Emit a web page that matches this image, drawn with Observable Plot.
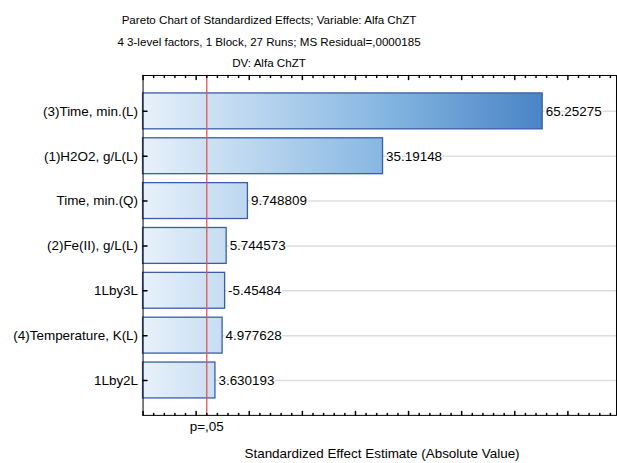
<!DOCTYPE html>
<html><head><meta charset="utf-8">
<script src="https://cdn.jsdelivr.net/npm/d3@7"></script>
<script src="https://cdn.jsdelivr.net/npm/@observablehq/plot@0.6"></script>
<style>
body{margin:0;background:#fff;font-family:"Liberation Sans",Arial,sans-serif;overflow:hidden}
#wrap{width:617px;height:463px;overflow:hidden;position:relative;background:#fff}
#title{box-sizing:border-box;width:538px;text-align:center;font-size:11.6px;line-height:21.5px;padding-top:9px;height:71px;color:#000}
#chart svg{display:block}
</style></head><body>
<div id="wrap"><div id="title"></div><div id="chart"></div></div>
<script>
const titleLines = [
  "Pareto Chart of Standardized Effects; Variable: Alfa ChZT",
  "4 3-level factors, 1 Block, 27 Runs; MS Residual=,0000185",
  "DV: Alfa ChZT"
];
const factors = ["(3)Time, min.(L)", "(1)H2O2, g/L(L)", "Time, min.(Q)", "(2)Fe(II), g/L(L)", "1Lby3L", "(4)Temperature, K(L)", "1Lby2L"];
const effects = [65.25275, 35.19148, 9.748809, 5.744573, -5.45484, 4.977628, 3.630193];
const xDomain = [-10, 79.15];
const majorTicks = [-10, 0, 10, 20, 30, 40, 50, 60, 70];
const minorTicks = [-8, -6, -4, -2, 2, 4, 6, 8, 12, 14, 16, 18, 22, 24, 26, 28, 32, 34, 36, 38, 42, 44, 46, 48, 52, 54, 56, 58, 62, 64, 66, 68, 72, 74, 76, 78];
const pCritical = 2.0;
const pLabel = "p=,05";
const xLabel = "Standardized Effect Estimate (Absolute Value)";

d3.select("#title").selectAll("div").data(titleLines).join("div").text(d => d);

const data = factors.map((f, i) => ({factor: f, effect: effects[i], abs: Math.abs(effects[i])}));
const tickShape = {draw(context, l) { context.moveTo(0, 0); context.lineTo(0, -l); }};
const font = '"Liberation Sans", Arial, sans-serif';

const chart = Plot.plot({
  width: 619, height: 392,
  marginLeft: 143, marginRight: 1, marginTop: 4, marginBottom: 47,
  style: {fontFamily: font, fontSize: "13.5px", background: "white", color: "black"},
  x: {domain: xDomain, axis: null},
  y: {domain: factors, paddingInner: 0.2, paddingOuter: 0.35, label: null},
  marks: [
    Plot.ruleY(factors, {y: d => d, stroke: "#dddddd", strokeWidth: 1.5}),
    Plot.barX(data, {y: "factor", x1: xDomain[0], x2: "abs", fill: "url(#barGrad)", stroke: "#3a5da8", strokeWidth: 1.3}),
    Plot.ruleX([pCritical], {x: d => d, stroke: "#e5545a", strokeWidth: 1.3}),
    Plot.text(data, {y: "factor", x: "abs", text: d => String(d.effect), textAnchor: "start", dx: 3, fill: "black", stroke: "white", strokeWidth: 3, fontSize: 13.5}),
    Plot.frame({stroke: "black"}),
    Plot.axisY({tickSize: 0, tickPadding: 5, fontSize: 13.5, label: null}),
    Plot.vector(majorTicks, {x: d => d, frameAnchor: "bottom", length: 4, rotate: 0, anchor: "start", shape: tickShape, stroke: "black"}),
    Plot.vector(minorTicks, {x: d => d, frameAnchor: "bottom", length: 2, rotate: 0, anchor: "start", shape: tickShape, stroke: "black"}),
    Plot.vector(majorTicks, {x: d => d, frameAnchor: "top", length: 4, rotate: 180, anchor: "start", shape: tickShape, stroke: "black"}),
    Plot.vector(minorTicks, {x: d => d, frameAnchor: "top", length: 2, rotate: 180, anchor: "start", shape: tickShape, stroke: "black"}),
    Plot.vector(factors, {y: d => d, frameAnchor: "left", length: 4, rotate: 90, anchor: "start", shape: tickShape, stroke: "black"}),
    Plot.text([pLabel], {x: pCritical, frameAnchor: "bottom", dy: 16, text: d => d, fontSize: 13.5}),
    Plot.text([xLabel], {x: () => 35, frameAnchor: "bottom", dy: 43, text: d => d, fontSize: 13.5})
  ]
});

const sx = chart.scale("x");
const gx1 = sx.apply(xDomain[0]);
const gx2 = sx.apply(effects[0]);
const grad = d3.select(chart).insert("defs", ":first-child")
  .append("linearGradient").attr("id", "barGrad")
  .attr("gradientUnits", "userSpaceOnUse")
  .attr("x1", gx1).attr("x2", gx2).attr("y1", 0).attr("y2", 0);
grad.append("stop").attr("offset", 0).attr("stop-color", "#e8f1fa");
grad.append("stop").attr("offset", 0.6).attr("stop-color", "#86b7e2");
grad.append("stop").attr("offset", 1).attr("stop-color", "#4a84c6");

document.getElementById("chart").appendChild(chart);
</script>
</body></html>
